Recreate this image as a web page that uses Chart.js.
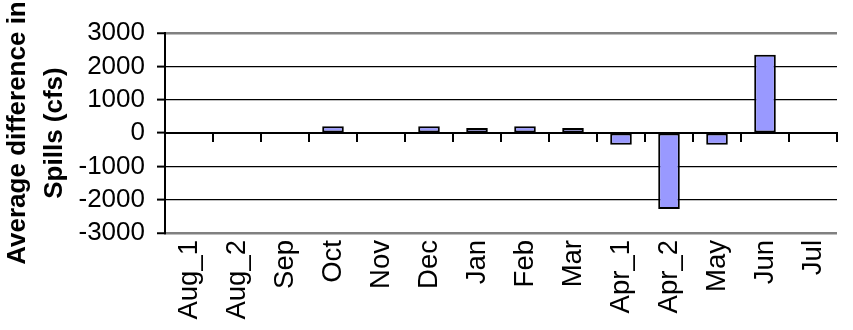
<!DOCTYPE html>
<html>
<head>
<meta charset="utf-8">
<script src="https://cdn.jsdelivr.net/npm/chart.js@4"></script>
<style>
  html, body { margin: 0; padding: 0; background: #ffffff; }
  #wrap { width: 853px; height: 330px; position: relative; }
</style>
</head>
<body>
<div id="wrap"><canvas id="c"></canvas></div>
<script>
const categories = ['Aug_1','Aug_2','Sep','Oct','Nov','Dec','Jan','Feb','Mar','Apr_1','Apr_2','May','Jun','Jul'];
const spillDiff = [0, 0, 0, 200, 0, 200, 150, 200, 150, -350, -2280, -350, 2350, 0];
const yTicks = [-3000, -2000, -1000, 0, 1000, 2000, 3000];
const yTitle = ['Average difference in', 'Spills (cfs)'];

const FONT = '"Liberation Sans", Arial, sans-serif';

new Chart(document.getElementById('c'), {
  type: 'bar',
  data: {
    labels: categories,
    datasets: [{
      data: spillDiff,
      backgroundColor: '#9999FF',
      borderColor: '#000000',
      borderWidth: 2,
      borderSkipped: false,
      barPercentage: 0.45,
      categoryPercentage: 1.0,
      xAxisID: 'x'
    }]
  },
  options: {
    responsive: true,
    maintainAspectRatio: false,
    animation: false,
    layout: { padding: { top: 33, right: -3, left: 0, bottom: 0 } },
    plugins: { legend: { display: false }, tooltip: { enabled: false } },
    scales: {
      x: {
        type: 'category',
        position: 'bottom',
        offset: true,
        grid: { display: false, drawTicks: false, offset: true },
        border: { display: false },
        ticks: {
          color: '#000',
          font: { family: FONT, size: 27.5 },
          minRotation: 90, maxRotation: 90,
          autoSkip: false,
          padding: 7
        },
        afterFit(scale) { scale.height = 97; }
      },
      x2: {
        type: 'category',
        axis: 'x',
        position: { y: 0 },
        offset: true,
        grid: { display: true, drawOnChartArea: false, offset: true, tickLength: 8, color: '#000', lineWidth: 2 },
        border: { display: true, color: '#000', width: 2 },
        ticks: { display: false }
      },
      y: {
        min: yTicks[0],
        max: yTicks[yTicks.length - 1],
        afterBuildTicks(scale) { scale.ticks = yTicks.map(v => ({ value: v })); },
        ticks: {
          color: '#000',
          font: { family: FONT, size: 26, lineHeight: 1 },
          padding: 12,
          autoSkip: false,
          callback: v => String(v)
        },
        grid: {
          color: ctx => (ctx.tick && Math.abs(ctx.tick.value) === 3000) ? '#808080' : '#000000',
          lineWidth: ctx => (ctx.tick && Math.abs(ctx.tick.value) === 3000) ? 2.5 : 1.2,
          tickColor: '#000',
          tickLength: 8,
          tickWidth: 2
        },
        border: { display: true, color: '#000', width: 2 },
        title: {
          display: true,
          text: yTitle,
          color: '#000',
          font: { family: FONT, size: 26, weight: 'bold', lineHeight: 1.4 },
          padding: { top: 0, bottom: 0 }
        },
        afterFit(scale) { scale.width = 165; }
      }
    }
  }
});
</script>
</body>
</html>
